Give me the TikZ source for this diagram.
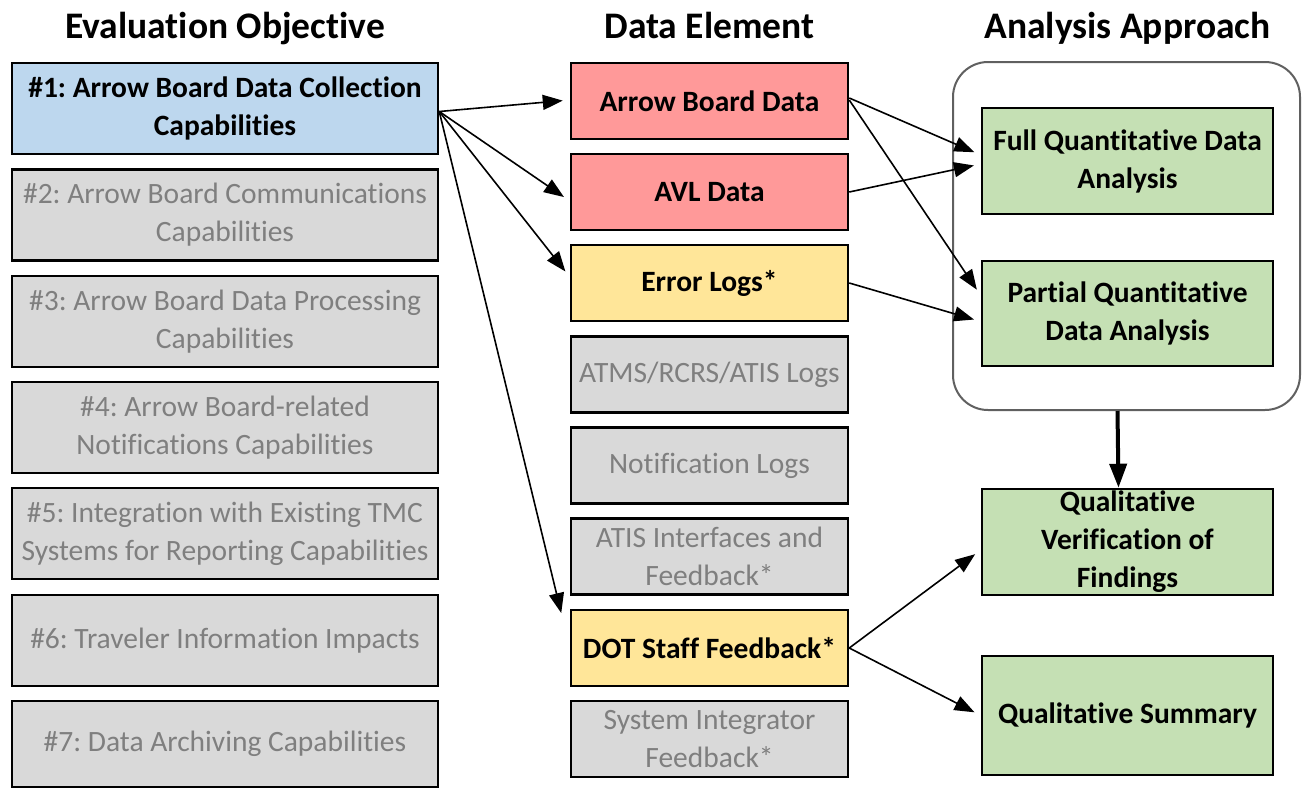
\documentclass[tikz,border=0pt]{standalone}
\usepackage{fontspec}
\setmainfont{Carlito}[Ligatures=NoCommon]
\frenchspacing
\usetikzlibrary{arrows.meta}
\definecolor{OBJBLUE}{HTML}{BDD7EE}
\definecolor{DATARED}{HTML}{FF9999}
\definecolor{DATAYEL}{HTML}{FFE699}
\definecolor{BOXGRAY}{HTML}{D9D9D9}
\definecolor{TXTGRAY}{HTML}{7F7F7F}
\definecolor{APPGREEN}{HTML}{C5E0B4}
\definecolor{FRAMEGRAY}{HTML}{606060}
\tikzset{
	every node/.style = {font=\fontsize{29.5}{38}\selectfont, align=center, inner sep=0pt},
	title/.style = {font=\fontsize{37.5}{40}\selectfont\bfseries, anchor=base},
	box/.style = {draw=black, line width=2.5pt, rectangle},
	objbox/.style = {box, minimum width=426pt, minimum height=91pt},
	databox/.style = {box, minimum width=277pt, minimum height=76pt},
	appbox/.style = {box, fill=APPGREEN, minimum width=291pt, font=\fontsize{29.5}{38}\selectfont\bfseries},
	active/.style = {font=\fontsize{29.5}{38}\selectfont\bfseries},
	inactive/.style = {fill=BOXGRAY, text=TXTGRAY},
	link/.style = {-{Triangle[length=20pt,width=15pt]}, line width=1.6pt, shorten >=7pt}
}

\begin{document}
\begin{tikzpicture}[x=1pt, y=-1pt]
		\useasboundingbox (0,0) rectangle (1303,788);
		% headings
		\node[title] (t1) at (225,38) {Evaluation Objective};
		\node[title] (t2) at (709.5,38) {Data Element};
		\node[title] (t3) at (1127.5,38) {Analysis Approach};
		% evaluation objectives
		\node[objbox, fill=OBJBLUE, active] (o1) at (225,108.5) {\#1: Arrow Board Data Collection\\Capabilities};
		\node[objbox, inactive] (o2) at (225,215) {\#2: Arrow Board Communications\\Capabilities};
		\node[objbox, inactive] (o3) at (225,321.5) {\#3: Arrow Board Data Processing\\Capabilities};
		\node[objbox, inactive] (o4) at (225,427.5) {\#4: Arrow Board-related\\Notifications Capabilities};
		\node[objbox, inactive] (o5) at (225,533.5) {\#5: Integration with Existing TMC\\Systems for Reporting Capabilities};
		\node[objbox, inactive] (o6) at (225,640.5) {\#6: Traveler Information Impacts};
		\node[objbox, inactive, minimum height=86pt] (o7) at (225,744) {\#7: Data Archiving Capabilities};
		% data elements
		\node[databox, fill=DATARED, active] (abd) at (709.5,101) {Arrow Board Data};
		\node[databox, fill=DATARED, active] (avl) at (709.5,192) {AVL Data};
		\node[databox, fill=DATAYEL, active] (err) at (709.5,283) {Error Logs*};
		\node[databox, inactive] (atms) at (709.5,374.5) {ATMS/RCRS/ATIS Logs};
		\node[databox, inactive] (notif) at (709.5,465.5) {Notification Logs};
		\node[databox, inactive] (atis) at (709.5,556.5) {ATIS Interfaces and\\Feedback*};
		\node[databox, fill=DATAYEL, active] (dot) at (709.5,648) {DOT Staff Feedback*};
		\node[databox, inactive] (integ) at (709.5,739) {System Integrator\\Feedback*};
		% analysis approach
		\node[draw=FRAMEGRAY, line width=2pt, rounded corners=35pt, minimum width=347pt, minimum height=348pt] (grp) at (1126.5,236) {};
		\node[appbox, minimum height=106pt] (full) at (1127.5,161) {Full Quantitative Data\\Analysis};
		\node[appbox, minimum height=105pt] (part) at (1127.5,313.5) {Partial Quantitative\\Data Analysis};
		\node[appbox, minimum height=106pt] (verif) at (1127.5,542) {Qualitative\\Verification of\\Findings};
		\node[appbox, minimum height=119pt] (summ) at (1127.5,715.5) {Qualitative Summary};
		% objective to data
		\draw[link] ([yshift=-3pt]o1.east) -- ([yshift=1pt]abd.west);
		\draw[link] ([yshift=-3pt]o1.east) -- ([yshift=-9pt]avl.west);
		\draw[link] ([yshift=-3pt]o1.east) -- ([yshift=6pt]err.west);
		\draw[link, shorten >=36pt] ([yshift=-3pt]o1.east) -- (dot.west);
		% data to approach
		\draw[link] ([yshift=3pt]abd.east) -- ([yshift=6pt]full.west);
		\draw[link] (avl.east) -- ([yshift=-3pt]full.west);
		\draw[link] ([yshift=1pt]abd.east) -- ([yshift=18pt]part.west);
		\draw[link] (err.east) -- ([yshift=-8pt]part.west);
		\draw[link] (dot.east) -- ([yshift=-8pt]verif.west);
		\draw[link] (dot.east) -- (summ.west);
		% quantitative to qualitative
		\draw[-{Triangle[length=24pt,width=17pt]}, line width=4pt] ([xshift=-9pt]grp.south) -- ([xshift=-9pt]verif.north);
	\end{tikzpicture}
\end{document}
